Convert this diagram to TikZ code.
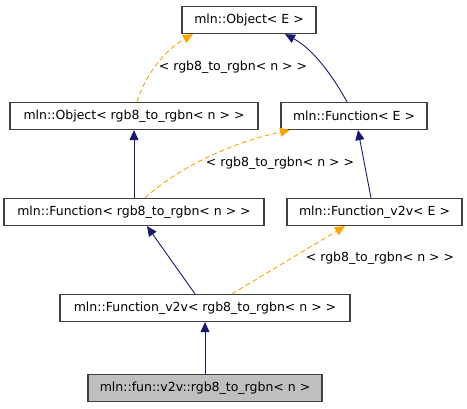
\documentclass[tikz,border=0pt]{standalone}
\usepackage{fontspec}
\setmainfont{DejaVu Sans}
\usetikzlibrary{arrows.meta,calc}
\definecolor{navyc}{HTML}{191970}
\definecolor{orangec}{HTML}{FFA500}
\definecolor{boxc}{HTML}{404040}
\definecolor{fillc}{HTML}{BFBFBF}
\begin{document}
\begin{tikzpicture}[x=1pt,y=-1pt,
  cls/.style={draw=boxc,line width=1.2pt,fill=white,minimum height=27pt,inner sep=0pt,font=\fontsize{12.5}{14}\selectfont},
  inh/.style={draw=navyc,line width=0.9pt,-{Triangle[length=10pt,width=9pt]}},
  tmpl/.style={draw=orangec,line width=0.9pt,dash pattern=on 5pt off 3pt,-{Triangle[length=10pt,width=9pt,fill=orangec]}},
  lbl/.style={font=\fontsize{12.5}{14}\selectfont,inner sep=0pt}]
\useasboundingbox (0,0) rectangle (467,408);
\node[cls,minimum width=134pt] (b1) at (249,20) {mln::Object< E >};
\node[cls,minimum width=248pt] (b2) at (134,116) {mln::Object< rgb8\_to\_rgbn< n > >};
\node[cls,minimum width=146pt] (b3) at (354,116) {mln::Function< E >};
\node[cls,minimum width=260pt] (b4) at (134,212) {mln::Function< rgb8\_to\_rgbn< n > >};
\node[cls,minimum width=175pt] (b5) at (374.5,212) {mln::Function\_v2v< E >};
\node[cls,minimum width=290pt] (b6) at (205,308) {mln::Function\_v2v< rgb8\_to\_rgbn< n > >};
\node[cls,minimum width=234pt,fill=fillc] (b7) at (205,388) {mln::fun::v2v::rgb8\_to\_rgbn< n >};
\draw[tmpl] ([xshift=3pt]b2.north) .. controls +(8,-27) and +(-28,16) .. ([xshift=-56pt]b1.south);
\node[lbl] (l1) at (233,67) {< rgb8\_to\_rgbn< n > >};
\draw[inh] ([xshift=-7pt]b3.north) .. controls +(-12,-22) and +(30,16) .. ([xshift=36pt]b1.south);
\draw[inh] (b4.north) -- (b2.south);
\draw[tmpl] ([xshift=11pt]b4.north) .. controls +(25,-23) and +(-70,15) .. ([xshift=-64pt]b3.south);
\node[lbl] (l2) at (280,163) {< rgb8\_to\_rgbn< n > >};
\draw[inh] ([xshift=-3.5pt]b5.north) -- ([xshift=4pt]b3.south);
\draw[inh] ([xshift=-10pt]b6.north) -- ([xshift=13pt]b4.south);
\draw[tmpl] ([xshift=27pt]b6.north) -- ([xshift=-29.5pt]b5.south);
\node[lbl] (l3) at (380,258) {< rgb8\_to\_rgbn< n > >};
\draw[inh] (b7.north) -- (b6.south);
\end{tikzpicture}
\end{document}
